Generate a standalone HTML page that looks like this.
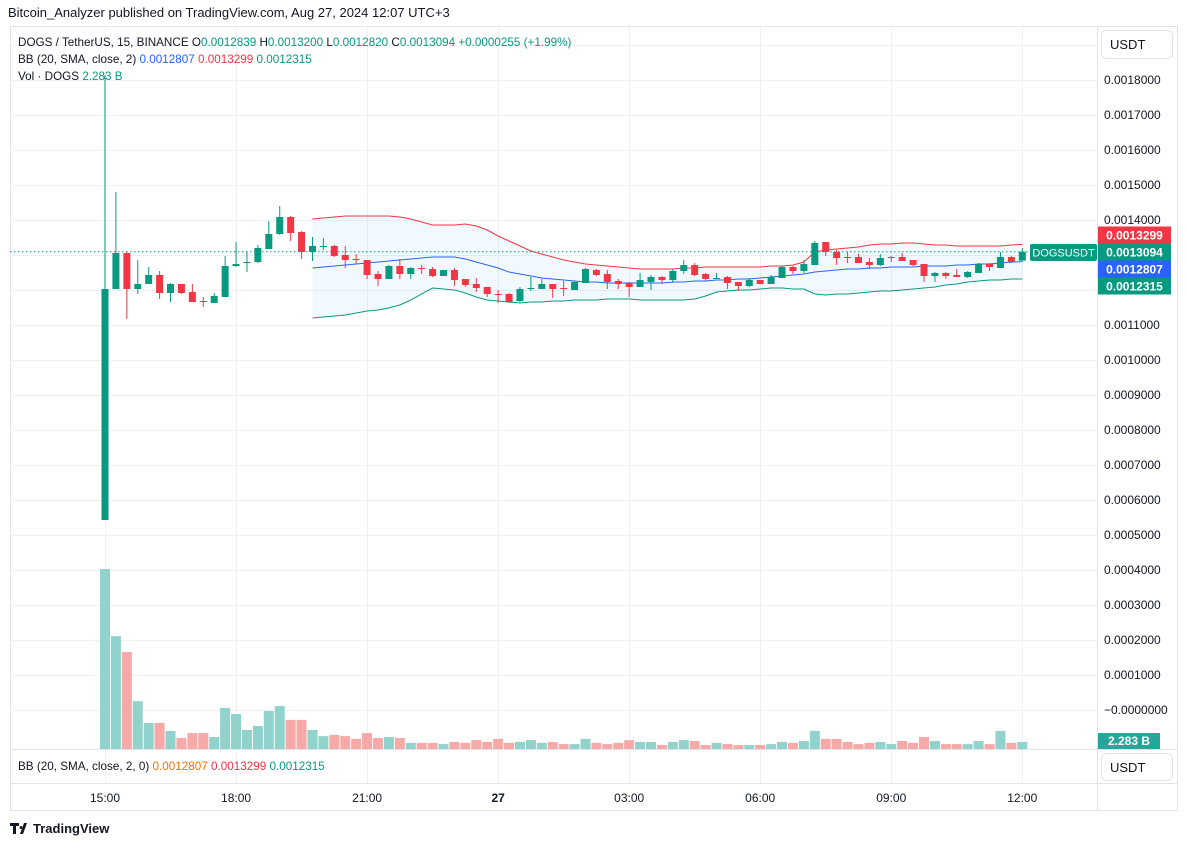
<!DOCTYPE html>
<html><head><meta charset="utf-8"><style>
body{margin:0;background:#fff;font-family:"Liberation Sans",sans-serif;}
svg text{font-family:"Liberation Sans",sans-serif;}
</style></head><body>
<svg id="chart" width="1187" height="846" xmlns="http://www.w3.org/2000/svg">
<text x="8" y="17" font-size="13" fill="#131722">Bitcoin_Analyzer published on TradingView.com, Aug 27, 2024 12:07 UTC+3</text>
<rect x="10.5" y="26.5" width="1167" height="784" fill="none" stroke="#e0e3eb"/>
<g id="grid"></g>
<g id="bands"></g>
<g id="vols"></g>
<g id="candles"></g>
<line x1="10" x2="1097" y1="251.7" y2="251.7" stroke="#089981" stroke-dasharray="1.5 2.5"/>
<line x1="1097.5" x2="1097.5" y1="26" y2="811" stroke="#e0e3eb"/>
<line x1="10" x2="1177" y1="749.5" y2="749.5" stroke="#e0e3eb"/>
<line x1="10" x2="1177" y1="783.5" y2="783.5" stroke="#e0e3eb"/>
<g id="yticks"></g>
<g id="xticks"></g>
<text font-size="11.7" x="18" y="46"><tspan fill="#131722">DOGS / TetherUS, 15, BINANCE  O</tspan><tspan fill="#089981">0.0012839</tspan><tspan fill="#131722">  H</tspan><tspan fill="#089981">0.0013200</tspan><tspan fill="#131722">  L</tspan><tspan fill="#089981">0.0012820</tspan><tspan fill="#131722">  C</tspan><tspan fill="#089981">0.0013094  +0.0000255 (+1.99%)</tspan></text>
<text font-size="11.7" x="18" y="63"><tspan fill="#131722">BB (20, SMA, close, 2)  </tspan><tspan fill="#2962ff">0.0012807</tspan><tspan fill="#f23645">  0.0013299</tspan><tspan fill="#089981">  0.0012315</tspan></text>
<text font-size="11.7" x="18" y="80"><tspan fill="#131722">Vol · DOGS  </tspan><tspan fill="#089981">2.283 B</tspan></text>
<text font-size="11.7" x="18" y="770"><tspan fill="#131722">BB (20, SMA, close, 2, 0)  </tspan><tspan fill="#ff6d00">0.0012807</tspan><tspan fill="#f23645">  0.0013299</tspan><tspan fill="#089981">  0.0012315</tspan></text>
<rect x="1101.5" y="30.5" width="71" height="28" rx="5" fill="#fff" stroke="#e0e3eb"/>
<text x="1110" y="49" font-size="13" fill="#131722">USDT</text>
<rect x="1101.5" y="753.5" width="71" height="27" rx="5" fill="#fff" stroke="#e0e3eb"/>
<text x="1110" y="772" font-size="13" fill="#131722">USDT</text>
<g id="badges"></g>
<rect x="1030" y="244" width="67" height="17" rx="2" fill="#089981"/>
<text x="1063.5" y="256.5" font-size="11" fill="#fff" text-anchor="middle">DOGSUSDT</text>
<rect x="1098" y="733" width="62" height="16" fill="#26a69a"/>
<text x="1129" y="745" font-size="12" fill="#fff" text-anchor="middle" font-weight="bold">2.283 B</text>
<g><path d="M10 823h9v3h-3v8h-3v-8h-3z M20 834l4-11h3l-4 11z M21 826a1.5 1.5 0 1 0 0.01 0" fill="#131722"/>
<text x="33" y="833" font-size="13" fill="#131722" font-weight="bold">TradingView</text></g>
</svg>
<script>
const UNIT = 1e-7;
const opens = [5429,12029,13057,12029,12171,12429,11914,12171,11943,11686,11629,11800,12686,12771,12800,13171,13600,14086,13657,13086,13229,13257,13000,12886,12857,12457,12314,12686,12457,12629,12600,12400,12571,12314,12171,12086,11886,11886,11686,12029,12029,12171,12057,12000,12200,12571,12457,12257,12200,12086,12229,12371,12286,12543,12714,12457,12314,12371,12229,12114,12286,12171,12343,12657,12543,12714,13371,13086,12943,12943,12800,12714,12914,12943,12857,12743,12400,12486,12429,12371,12486,12743,12629,12943,12839];
const highs = [18143,14800,13114,12857,12657,12543,12200,12171,12171,11800,11914,12971,13371,13086,13286,13971,14400,14114,13686,13514,13486,13286,13257,13029,12857,12543,12714,12886,12657,12714,12657,12571,12629,12314,12343,12086,12000,11914,12086,12371,12314,12171,12257,12257,12629,12600,12571,12314,12229,12486,12429,12400,12600,12857,12771,12486,12486,12400,12229,12343,12286,12429,12686,12686,12857,13400,13371,13143,13086,13029,12914,13029,12971,13057,12857,12743,12514,12514,12600,12543,12771,12771,13086,12971,13200];
const lows = [5429,12029,11171,11886,12171,11743,11657,11886,11657,11514,11629,11800,12657,12514,12771,13171,13571,13400,12886,12829,13143,12943,12629,12743,12314,12114,12314,12314,12314,12457,12371,12400,12114,12086,11943,11800,11629,11629,11657,11971,12029,11771,11829,12000,12200,12400,12029,12029,11800,12086,12000,12171,12200,12457,12400,12257,12314,12029,11971,12086,12171,12171,12343,12457,12486,12714,12971,12714,12771,12771,12600,12686,12800,12829,12686,12229,12229,12314,12371,12343,12486,12543,12629,12771,12820];
const closes = [12029,13057,12029,12171,12429,11914,12171,11914,11657,11657,11829,12686,12743,12800,13200,13600,14086,13629,13086,13257,13257,12971,12857,12857,12429,12314,12686,12457,12629,12600,12400,12571,12286,12143,12057,11886,11857,11657,12029,12057,12171,12029,12029,12229,12600,12429,12229,12171,12086,12286,12371,12286,12543,12714,12429,12314,12343,12200,12114,12286,12171,12371,12657,12543,12743,13343,13086,12914,12914,12771,12714,12914,12943,12829,12714,12400,12486,12400,12371,12514,12743,12657,12943,12800,13094];
const volumes = [58.7,36.8,31.6,15.6,8.5,8.5,5.9,3.6,5.2,5.2,3.9,13.4,11.4,6.2,7.5,12.4,14.0,9.5,9.5,6.2,4.2,4.6,4.2,3.3,5.2,3.6,3.9,3.6,2.0,2.0,2.0,1.6,2.3,2.0,2.9,2.3,3.3,2.0,2.3,2.9,2.0,2.3,1.6,1.6,3.3,2.0,1.6,2.0,2.9,2.3,2.3,1.3,2.3,2.9,2.6,1.3,2.0,1.6,1.3,1.3,1.3,1.6,2.3,2.0,2.6,5.9,3.3,3.3,2.3,1.6,2.0,2.3,1.6,2.6,2.0,3.9,2.6,1.6,1.6,1.6,2.6,1.6,5.9,2.0,2.283];
const BB_START = 19;
const bbUpper = [14029,14057,14086,14114,14114,14114,14114,14114,14086,14029,13943,13857,13857,13857,13886,13829,13714,13543,13400,13257,13114,13029,12943,12857,12800,12743,12714,12686,12657,12629,12600,12600,12600,12600,12629,12629,12657,12657,12657,12657,12657,12657,12686,12686,12714,12800,13086,13143,13171,13200,13229,13286,13314,13314,13343,13343,13314,13286,13286,13257,13257,13257,13257,13257,13286,13299];
const bbMid = [12629,12657,12686,12714,12743,12771,12800,12829,12857,12886,12914,12943,12943,12943,12886,12800,12714,12629,12514,12457,12400,12343,12314,12286,12257,12229,12229,12200,12200,12200,12200,12200,12200,12229,12229,12257,12257,12286,12286,12314,12314,12343,12371,12400,12429,12457,12514,12543,12571,12600,12600,12629,12629,12657,12657,12657,12686,12686,12686,12714,12714,12743,12743,12771,12800,12807];
const bbLower = [11200,11229,11257,11286,11343,11400,11429,11486,11571,11714,11886,12057,12029,12000,11914,11800,11714,11686,11657,11629,11657,11657,11686,11686,11714,11714,11714,11743,11743,11743,11714,11714,11714,11714,11714,11743,11829,11943,11971,12000,12000,12029,12057,12057,12029,12029,11886,11857,11886,11886,11914,11943,11971,11971,12000,12029,12057,12086,12143,12171,12229,12257,12286,12286,12314,12315];
const priceTicks = [0,1000,2000,3000,4000,5000,6000,7000,8000,9000,10000,11000,12000,13000,14000,15000,16000,17000,18000];
const timeLabels = ["15:00","18:00","21:00","27","03:00","06:00","09:00","12:00"];
const timeIdx = [0,12,24,36,48,60,72,84];

const NS="http://www.w3.org/2000/svg";
const X = i => 105 + 10.92*i;
const Y = p => 710 - p*UNIT*350000;
const VY = v => 749 - v*3.066;
function mk(tag, attrs, parent){const e=document.createElementNS(NS,tag);for(const k in attrs)e.setAttribute(k,attrs[k]);parent.appendChild(e);return e;}
const grid=document.getElementById('grid');
priceTicks.concat([19000]).forEach(t=>{const y=Math.round(Y(t))+0.5;
  const l=mk('line',{x1:10,x2:1097,y1:y,y2:y,stroke:'#eef0f4'},grid);
  
  });
timeIdx.forEach(i=>{const x=Math.round(X(i))+0.5;
  const l=mk('line',{x1:x,x2:x,y1:27,y2:783,stroke:'#eef0f4'},grid);
  
  });
const yt=document.getElementById('yticks');
priceTicks.forEach(t=>{if(t===12000||t===13000)return;
  const txt=t===0?'\u22120.0000000':(t*UNIT).toFixed(7);
  const e=mk('text',{x:1104,y:Y(t)+4,'font-size':12,fill:'#131722'},yt);e.textContent=txt;
  
  });
const xt=document.getElementById('xticks');
timeIdx.forEach((i,k)=>{const e=mk('text',{x:X(i),y:802,'font-size':12,fill:'#131722','text-anchor':'middle','font-weight':timeLabels[k]==='27'?'bold':'normal'},xt);e.textContent=timeLabels[k];
  
  });
const bands=document.getElementById('bands');
const up=bbUpper.map((v,k)=>[X(BB_START+k),Y(v)]), md=bbMid.map((v,k)=>[X(BB_START+k),Y(v)]), lo=bbLower.map((v,k)=>[X(BB_START+k),Y(v)]);
const fill=mk('path',{d:'M'+up.map(p=>p.join(',')).join('L')+'L'+lo.slice().reverse().map(p=>p.join(',')).join('L')+'Z',fill:'#2196f3','fill-opacity':0.06},bands);


[[up,'#f23645','bb-upper'],[md,'#2962ff','bb-basis'],[lo,'#089981','bb-lower']].forEach(([pts,c,n])=>{
  const e=mk('polyline',{points:pts.map(p=>p.join(',')).join(' '),fill:'none',stroke:c,'stroke-width':1},bands);
  
  });
const vg=document.getElementById('vols');
volumes.forEach((v,i)=>{const up=closes[i]>=opens[i];
  const r=mk('rect',{x:X(i)-5,y:VY(v),width:10,height:749-VY(v),fill:up?'#92d2cc':'#f7a9a7'},vg);
  
  });
const cg=document.getElementById('candles');
opens.forEach((o,i)=>{const c=closes[i];const col=c>=o?'#089981':'#f23645';const x=X(i);
  const w=mk('line',{x1:x,x2:x,y1:Y(highs[i]),y2:Y(lows[i]),stroke:col,'stroke-width':1},cg);
  
  
  const top=Math.min(Y(o),Y(c)),h=Math.max(1,Math.abs(Y(o)-Y(c)));
  const b=mk('rect',{x:x-3.5,y:top,width:7,height:h,fill:col},cg);
  
  });
const bg=document.getElementById('badges');
[[bbUpper[bbUpper.length-1],'#f23645'],[closes[closes.length-1],'#089981'],[bbMid[bbMid.length-1],'#2962ff'],[bbLower[bbLower.length-1],'#089981']].forEach(([v,c],k)=>{
  const cy=[235,252,269,286][k];
  const r=mk('rect',{x:1098,y:cy-8.5,width:73,height:17,fill:c},bg);
  
  
  const t=mk('text',{x:1134.5,y:cy+4.5,'font-size':12,fill:'#fff','text-anchor':'middle','font-weight':'bold'},bg);t.textContent=(v*UNIT).toFixed(7);
  
  });
</script>
</body></html>
